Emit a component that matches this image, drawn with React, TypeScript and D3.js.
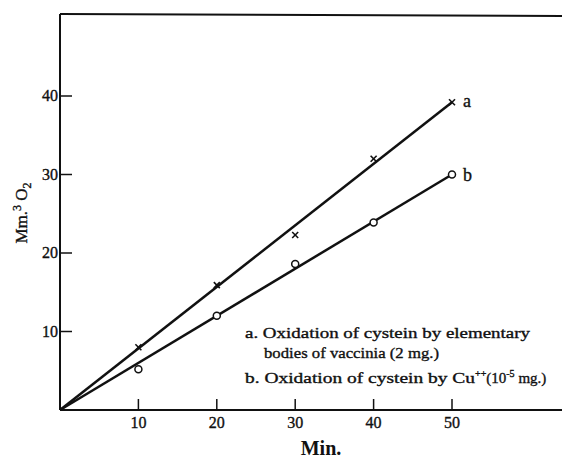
import React from "react";
import * as d3 from "d3";

const minutes = [10, 20, 30, 40, 50];
const seriesA = [8.0, 15.9, 22.3, 32.0, 39.2];
const seriesB = [5.2, 12.0, 18.6, 23.9, 30.0];
const fitA = [0, 39.2];
const fitB = [0, 30.0];
const fitX = [0, 50];
const xTicks = [10, 20, 30, 40, 50];
const yTicks = [10, 20, 30, 40];
const legendLines = [
  "a. Oxidation of cystein by elementary",
  "bodies of vaccinia  (2 mg.)",
];

export default function App() {
  const W = 562, H = 464;
  const x = d3.scaleLinear().domain([0, 50]).range([60, 452]);
  const y = d3.scaleLinear().domain([0, 40]).range([410, 96]);
  const line = d3.line<[number, number]>().x(d => x(d[0])).y(d => y(d[1]));
  const fA: [number, number][] = fitX.map((v, i) => [v, fitA[i]]);
  const fB: [number, number][] = fitX.map((v, i) => [v, fitB[i]]);
  const font = "'Liberation Serif', 'DejaVu Serif', serif";
  const txt = { fill: "#111", stroke: "#111", strokeWidth: 0.35 };
  return (
    <svg width={W} height={H} style={{ position: "absolute", left: 0, top: 0, background: "#fff" }}>
      {/* frame */}
      <line x1={x(0)} y1={14} x2={W} y2={16} stroke="#111" strokeWidth={2} />
      <line x1={x(0)} y1={14} x2={x(0)} y2={y(0)} stroke="#111" strokeWidth={2} />
      <line x1={x(0)} y1={y(0)} x2={W} y2={y(0)} stroke="#111" strokeWidth={2} />
      {xTicks.map(t => (
        <g key={"xt" + t}>
          <line x1={x(t)} x2={x(t)} y1={y(0)} y2={y(0) - 11} stroke="#111" strokeWidth={1.5} />
          <text x={x(t)} y={428} fontSize={16} fontFamily={font} textAnchor="middle" {...txt}>{t}</text>
        </g>
      ))}
      {yTicks.map(t => (
        <g key={"yt" + t}>
          <line x1={x(0)} x2={x(0) + 12} y1={y(t)} y2={y(t)} stroke="#111" strokeWidth={1.5} />
          <text x={58} y={y(t) + 5} fontSize={16} fontFamily={font} textAnchor="end" {...txt}>{t}</text>
        </g>
      ))}
      {/* fitted lines */}
      <path d={line(fA) || ""} fill="none" stroke="#111" strokeWidth={2.5} />
      <path d={line(fB) || ""} fill="none" stroke="#111" strokeWidth={2.5} />
      {/* markers a */}
      {minutes.map((m, i) => {
        const cx = x(m), cy = y(seriesA[i]);
        const s = 3;
        return (
          <g key={"a" + m} stroke="#111" strokeWidth={1.6}>
            <line x1={cx - s} y1={cy - s} x2={cx + s} y2={cy + s} />
            <line x1={cx - s} y1={cy + s} x2={cx + s} y2={cy - s} />
          </g>
        );
      })}
      {minutes.map((m, i) => (
        <circle key={"b" + m} cx={x(m)} cy={y(seriesB[i])} r={3.5} fill="#fff" stroke="#111" strokeWidth={1.5} />
      ))}
      <text x={x(50) + 11} y={y(seriesA[4]) + 5} fontSize={18} fontFamily={font} {...txt}>a</text>
      <text x={x(50) + 11} y={y(seriesB[4]) + 6} fontSize={18} fontFamily={font} {...txt}>b</text>
      {/* legend */}
      <text x={245} y={338} fontSize={15} fontFamily={font} {...txt} textLength={285} lengthAdjust="spacingAndGlyphs">{legendLines[0]}</text>
      <text x={264} y={358} fontSize={15} fontFamily={font} {...txt} textLength={175} lengthAdjust="spacingAndGlyphs">{legendLines[1]}</text>
      <text x={245} y={383} fontSize={15} fontFamily={font} {...txt}>
        <tspan textLength={230} lengthAdjust="spacingAndGlyphs">b. Oxidation of cystein by Cu</tspan>
        <tspan fontSize={10} dy={-6}>++</tspan>
        <tspan dy={6}>(10</tspan>
        <tspan fontSize={10} dy={-6}>-5</tspan>
        <tspan dy={6}> mg.)</tspan>
      </text>
      {/* axis titles */}
      <text transform="translate(27,213) rotate(-90)" fontSize={17} fontFamily={font} textAnchor="middle" {...txt}>
        Mm.<tspan fontSize={12} dy={-6}>3</tspan><tspan dy={6}> O</tspan><tspan fontSize={12} dy={4}>2</tspan>
      </text>
      <text x={321} y={455} fontSize={20} fontWeight="bold" fontFamily={font} textAnchor="middle" fill="#111">Min.</text>
    </svg>
  );
}
